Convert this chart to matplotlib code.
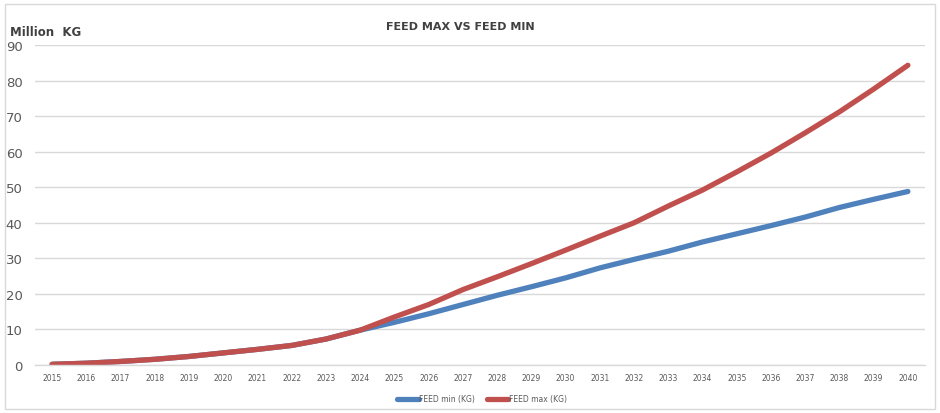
import matplotlib.pyplot as plt
from matplotlib.patches import Rectangle

anos = [str(a) for a in range(2015, 2041)]

# valores (milhoes de kg)
feed_min = [0.2, 0.5, 1.0, 1.6, 2.4, 3.4, 4.4, 5.5, 7.3, 9.8,
            12.0, 14.4, 17.0, 19.6, 22.0, 24.5, 27.3, 29.7, 32.0, 34.6,
            36.9, 39.2, 41.6, 44.3, 46.6, 48.8]
feed_max = [0.2, 0.5, 1.0, 1.6, 2.4, 3.4, 4.4, 5.5, 7.3, 9.8,
            13.5, 17.0, 21.2, 24.8, 28.5, 32.3, 36.2, 40.0, 44.7, 49.2,
            54.3, 59.6, 65.3, 71.2, 77.6, 84.3]

azul = '#4F81BD'
vermelho = '#C0504D'
cinza = '#595959'

fig = plt.figure(figsize=(9.4, 4.14), dpi=100)
ax = fig.add_axes([35 / 940, 1 - 366 / 414, 890 / 940, 320 / 414])

x = range(len(anos))
ax.plot(x, feed_min, color=azul, linewidth=3.8, solid_capstyle='round', label='FEED min (KG)')
ax.plot(x, feed_max, color=vermelho, linewidth=3.8, solid_capstyle='round', label='FEED max (KG)')

ax.set_xlim(-0.5, len(anos) - 0.5)
ax.set_ylim(0, 90)
ax.set_yticks(range(0, 91, 10))
ax.set_xticks(list(x))
ax.set_xticklabels(anos)

ax.grid(axis='y', color='#D9D9D9', linewidth=1)
ax.set_axisbelow(True)
for lado in ['top', 'right', 'left']:
    ax.spines[lado].set_visible(False)
ax.spines['bottom'].set_color('#D9D9D9')
ax.spines['bottom'].set_linewidth(1)

ax.tick_params(axis='y', length=0, pad=9, labelsize=9.5, labelcolor=cinza)
ax.tick_params(axis='x', length=0, pad=6, labelsize=5.5, labelcolor=cinza)

fig.text(460 / 940, 1 - 27 / 414, 'FEED MAX VS FEED MIN', ha='center', va='center',
         fontsize=8, fontweight='bold', color='#404040')
fig.text(10 / 940, 1 - 32 / 414, 'Million  KG', ha='left', va='center',
         fontsize=8.5, fontweight='bold', color='#404040')

leg = fig.legend(loc='center', bbox_to_anchor=(482 / 940, 1 - 400 / 414), ncol=2,
                 frameon=False, fontsize=5.5, handlelength=2.8, handletextpad=0.1,
                 columnspacing=1.5)
for t in leg.get_texts():
    t.set_color(cinza)

fig.patches.append(Rectangle((5 / 940, 4 / 414), 930 / 940, 405 / 414, transform=fig.transFigure,
                             fill=False, edgecolor='#D9D9D9', linewidth=1))

fig.savefig('out.png', dpi=100)
